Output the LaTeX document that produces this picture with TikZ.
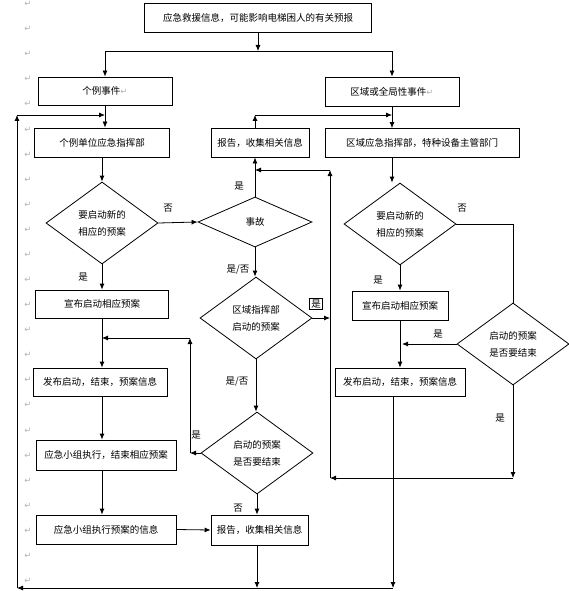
\documentclass[tikz,border=0pt]{standalone}
\usepackage{fontspec}
\setmainfont{Noto Sans CJK SC}
\newfontfamily\symfont{DejaVu Sans}
\usetikzlibrary{arrows.meta,shapes.geometric}
\tikzset{
  tbox/.style={draw, rectangle, inner sep=0pt, minimum height=29pt},
  dbox/.style={draw, diamond, inner sep=0pt, minimum width=112pt, minimum height=82pt, align=center},
  arr/.style={-{Latex[length=6pt,width=5pt]}},
  lbl/.style={inner sep=0pt},
  pmark/.style={inner sep=0pt, text=gray!60, font=\symfont\fontsize{8.5}{8.5}\selectfont}
}
\newcommand\pmk{{\symfont\fontsize{8.5}{8.5}\selectfont\color{gray!60}↵}}
\begin{document}
\begin{tikzpicture}[x=1pt,y=-1pt,line width=0.8pt,font=\fontsize{9.5}{17}\selectfont]
\useasboundingbox (0,0) rectangle (569,591);
\foreach \n in {0,...,23} \node[pmark] (pm\n) at (28,4+25.08*\n) {↵};
\node[tbox, minimum width=227pt] (top) at (258,17.5) {应急救援信息，可能影响电梯困人的有关预报};
\node[tbox, minimum width=134pt, minimum height=28pt] (ind) at (105,91) {个例事件\pmk};
\node[tbox, minimum width=134pt] (reg) at (392,91.5) {区域或全局性事件\pmk};
\node[tbox, minimum width=135pt] (indcmd) at (102,142.5) {个例单位应急指挥部};
\node[tbox, minimum width=98pt] (repa) at (260,142.5) {报告，收集相关信息};
\node[tbox, minimum width=194pt] (regcmd) at (422,143) {区域应急指挥部，特种设备主管部门};
\node[dbox] (dnewa) at (102,223) {要启动新的\\相应的预案};
\node[dbox, minimum width=114pt, minimum height=50pt] (acc) at (255,222) {事故};
\node[dbox] (dnewb) at (400,224) {要启动新的\\相应的预案};
\node[tbox, minimum width=133pt, minimum height=28pt] (anna) at (102,304) {宣布启动相应预案};
\node[dbox] (regd) at (256,318) {区域指挥部\\启动的预案};
\node[tbox, minimum width=96pt] (annb) at (400,305.5) {宣布启动相应预案};
\node[dbox] (endb) at (513,344) {启动的预案\\是否要结束};
\node[tbox, minimum width=134pt, minimum height=28pt] (puba) at (100,382) {发布启动，结束，预案信息};
\node[tbox, minimum width=130pt, minimum height=28pt] (pubb) at (400,382) {发布启动，结束，预案信息};
\node[dbox] (enda) at (257,453) {启动的预案\\是否要结束};
\node[tbox, minimum width=140pt, minimum height=30pt] (exec) at (106,455) {应急小组执行，结束相应预案};
\node[tbox, minimum width=140pt] (info) at (106,529.5) {应急小组执行预案的信息};
\node[tbox, minimum width=97pt, minimum height=30pt] (repb) at (259.5,530) {报告，收集相关信息};
\coordinate (jtop) at (258,51);
\coordinate (lt) at (17,115);
\coordinate (lb) at (17,588);
\coordinate (rb) at (393,588);
\coordinate (ma) at (257,588);
\coordinate (rt) at (255,115);
\coordinate (ra) at (330,170);
\coordinate (rc) at (330,478);
\coordinate (rd) at (513,478);
\coordinate (la) at (190,338);
\coordinate (lc) at (190,453);
\coordinate (rj) at (330,318);
\coordinate (nr) at (513,224);
\coordinate (ej) at (402,344);
\draw[arr] (top) -- (jtop);
\draw[arr] (jtop) -| (ind.north);
\draw[arr] (jtop) -| (reg.north);
\draw[arr] (ind.south) -- (ind.south |- indcmd.north);
\draw[arr] (lb) -- (lt);
\draw[arr] (lt) -- (ind.south |- lt);
\draw[arr] (reg.south) -- (reg.south |- regcmd.north);
\draw[arr] (rt |- repa.north) -- (rt);
\draw[arr] (rt) -- (reg.south |- rt);
\draw[arr] (indcmd.south) -- (dnewa.north);
\draw[arr] (dnewa.east) -- (acc.west);
\draw[arr] (dnewa.south) -- (anna.north);
\draw[arr] (acc.north) -- (acc.north |- repa.south);
\draw[arr] (acc.south) -- (acc.south |- regd.north);
\draw[arr] (regd.east) -- (rj);
\draw[arr] (regd.south) -- (regd.south |- enda.north);
\draw[arr] (enda.west) -- (lc);
\draw[arr] (lc) -- (la);
\draw[arr] (la) -- (anna.south |- la);
\draw[arr] (anna.south) -- (anna.south |- puba.north);
\draw[arr] (anna.south |- puba.south) -- (anna.south |- exec.north);
\draw[arr] (anna.south |- exec.south) -- (anna.south |- info.north);
\draw[arr] (info.east) -- (repb.west);
\draw[arr] (enda.south) -- (enda.south |- repb.north);
\draw[arr] (enda.south |- repb.south) -- (ma);
\draw[arr] (rb) -- (lb);
\draw[arr] (reg.south |- regcmd.south) -- (reg.south |- dnewb.north);
\draw (dnewb.east) -- (nr) -- (endb.north);
\draw[arr] (dnewb.south) -- (annb.north);
\draw[arr] (annb.south) -- (annb.south |- pubb.north);
\draw[arr] (endb.west) -- (ej);
\draw[arr] (rb |- pubb.south) -- (rb);
\draw[arr] (endb.south) -- (rd);
\draw[arr] (rd) -- (rc);
\draw[arr] (rc) -- (ra);
\draw[arr] (ra) -- (acc.north |- ra);
\node[lbl] (yesa) at (83,277) {是};
\node[lbl] (noa) at (168,208) {否};
\node[lbl] (yesb) at (239,186) {是};
\node[lbl] (yna) at (238,270) {是/否};
\node[lbl, draw, inner sep=1.5pt] (yesc) at (316,304) {是};
\node[lbl] (ynb) at (237,382) {是/否};
\node[lbl] (yesd) at (196,435) {是};
\node[lbl] (nob) at (238,508) {否};
\node[lbl] (noc) at (462,208) {否};
\node[lbl] (yese) at (378,280) {是};
\node[lbl] (yesf) at (438,334) {是};
\node[lbl] (yesg) at (500,418) {是};
\end{tikzpicture}
\end{document}
